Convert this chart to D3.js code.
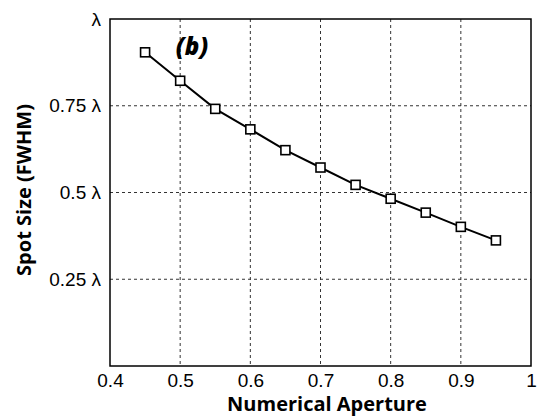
<!DOCTYPE html>
<html>
<head>
<meta charset="utf-8">
<script src="https://cdn.jsdelivr.net/npm/d3@7"></script>
<style>
  body { margin: 0; background: #fff; }
  .tick text { font-family: "Liberation Sans", Arial, sans-serif; font-size: 19px; fill: #000; }
</style>
</head>
<body>
<div id="chart"></div>
<script>
const na = [0.45, 0.5, 0.55, 0.6, 0.65, 0.7, 0.75, 0.8, 0.85, 0.9, 0.95]
const spot = [0.904, 0.822, 0.741, 0.682, 0.622, 0.572, 0.522, 0.482, 0.442, 0.401, 0.362]
const xTicks = [0.4, 0.5, 0.6, 0.7, 0.8, 0.9, 1]
const yTicks = [0.25, 0.5, 0.75, 1]
const yTickLabels = ["0.25 λ", "0.5 λ", "0.75 λ", "λ"]

const margin = { top: 19, left: 110, right: 8, bottom: 51 },
      width = 539 - margin.left - margin.right,
      height = 417 - margin.top - margin.bottom

const svg = d3.select("#chart")
    .append("svg")
    .attr("width", 539)
    .attr("height", 417)

const plot = svg.append("g")
    .attr("transform", "translate(" + margin.left + "," + margin.top + ")")

const x = d3.scaleLinear().domain([0.4, 1]).range([0, width])
const y = d3.scaleLinear().domain([0, 1]).range([height, 0])

// grid
plot.append("g")
  .selectAll("line")
  .data(xTicks.slice(1, -1))
  .enter().append("line")
    .attr("x1", d => x(d)).attr("x2", d => x(d))
    .attr("y1", 0).attr("y2", height)
    .attr("stroke", "#333").attr("stroke-dasharray", "3,3")

plot.append("g")
  .selectAll("line")
  .data(yTicks.slice(0, -1))
  .enter().append("line")
    .attr("x1", 0).attr("x2", width)
    .attr("y1", d => y(d)).attr("y2", d => y(d))
    .attr("stroke", "#333").attr("stroke-dasharray", "3,3")

// axes
plot.append("g")
  .attr("transform", "translate(0," + height + ")")
  .call(d3.axisBottom(x).tickValues(xTicks).tickSize(0).tickPadding(8)
    .tickFormat(d => d === 1 ? "1" : d3.format(".1f")(d)))
  .select(".domain").remove()

plot.append("g")
  .call(d3.axisLeft(y).tickValues(yTicks).tickSize(0).tickPadding(9)
    .tickFormat((d, i) => yTickLabels[i]))
  .select(".domain").remove()

plot.append("rect")
  .attr("width", width).attr("height", height)
  .attr("fill", "none").attr("stroke", "#000").attr("stroke-width", 1.5)

// line + markers
plot.append("path")
  .datum(na)
  .attr("fill", "none")
  .attr("stroke", "#000")
  .attr("stroke-width", 2)
  .attr("d", d3.line().x(d => x(d)).y((d, i) => y(spot[i])))

plot.selectAll(".pt")
  .data(na)
  .enter().append("rect")
    .attr("class", "pt")
    .attr("x", d => x(d) - 4.5)
    .attr("y", (d, i) => y(spot[i]) - 4.5)
    .attr("width", 9).attr("height", 9)
    .attr("fill", "#fff").attr("stroke", "#000").attr("stroke-width", 1.6)

// labels
svg.append("text")
  .attr("x", 192).attr("y", 55)
  .attr("text-anchor", "middle")
  .style("font-family", "'Open Sans', sans-serif")
  .style("font-weight", "800").style("font-style", "italic")
  .style("font-size", "24px")
  .text("(b)")

svg.append("text")
  .attr("x", 327).attr("y", 411)
  .attr("text-anchor", "middle")
  .style("font-family", "'Open Sans', sans-serif")
  .style("font-weight", "bold")
  .style("font-size", "20px")
  .text("Numerical Aperture")

svg.append("text")
  .attr("transform", "translate(31,190) rotate(-90)")
  .attr("text-anchor", "middle")
  .style("font-family", "'Open Sans', sans-serif")
  .style("font-weight", "bold")
  .style("font-size", "20px")
  .text("Spot Size (FWHM)")
</script>
</body>
</html>
